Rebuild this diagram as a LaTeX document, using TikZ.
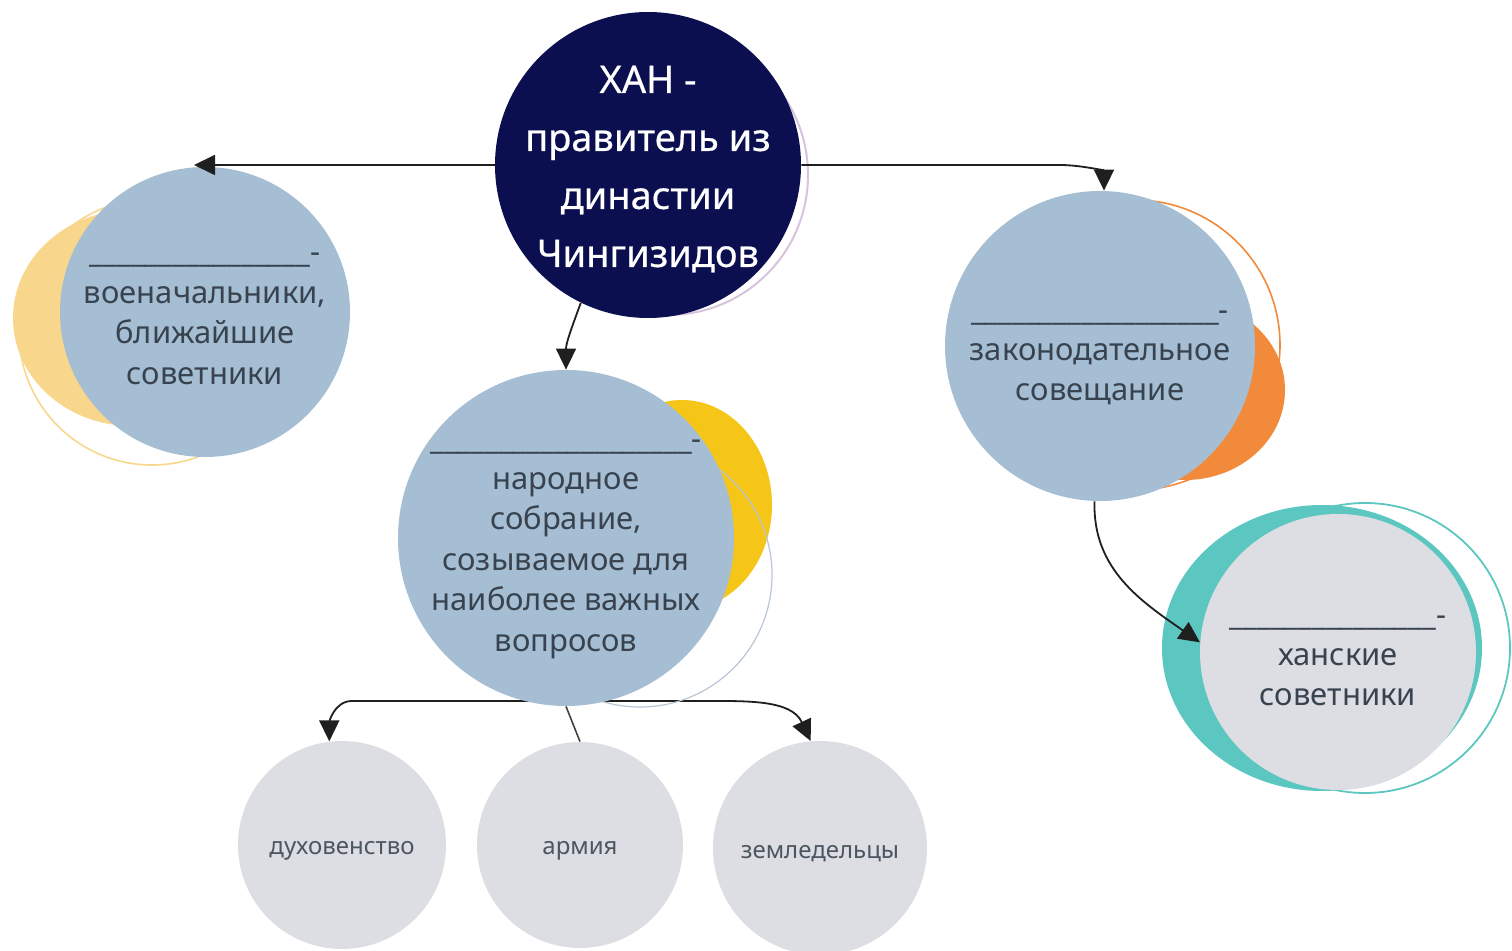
\documentclass[tikz,border=0pt]{standalone}
\usepackage{fontspec}
\setmainfont{Noto Sans}
\newfontfamily\medfont{Noto Sans}[FakeBold=0.5]
\usetikzlibrary{arrows.meta}
\definecolor{navy}{HTML}{0C0F4F}
\definecolor{bluegray}{HTML}{A5BED3}
\definecolor{lightgray}{HTML}{DDDEE3}
\definecolor{txt}{HTML}{38434F}
\definecolor{paleyellow}{HTML}{F8D68C}
\definecolor{goldyellow}{HTML}{F5C518}
\definecolor{orangec}{HTML}{F28A3B}
\definecolor{tealc}{HTML}{5CC7C0}
\definecolor{lavender}{HTML}{D6C3DC}
\definecolor{thinblue}{HTML}{B8C6D6}
\pgfdeclarelayer{back}
\pgfsetlayers{back,main}
\tikzset{
  disc/.style={circle, inner sep=0pt},
  bluedisc/.style={disc, fill=bluegray},
  graydisc/.style={disc, fill=lightgray},
  label text/.style={inner sep=0pt, align=center, text=txt, font=\fontsize{15.5}{20.2}\selectfont},
  small text/.style={inner sep=0pt, align=center, text=txt!90, font=\fontsize{12}{14}\selectfont},
  arr/.style={draw=black!88, line width=0.9pt, -{Triangle[length=10.5pt,width=10pt]}},
  plainline/.style={draw=black!75, line width=0.8pt},
}
\begin{document}
\begin{tikzpicture}[x=0.5pt,y=-0.5pt]
\useasboundingbox (0,0) rectangle (1512,951);
% decorative shapes
\draw[lavender, line width=1pt] (668,175) circle [radius=70pt];
\fill[paleyellow] (132,318) ellipse [x radius=59.5pt, y radius=54pt];
\draw[paleyellow, line width=0.8pt] (152,332) circle [radius=66.5pt];
\fill[orangec] (1185,390) ellipse [x radius=50pt, y radius=45pt];
\draw[orangec, line width=0.8pt] (1135,345) circle [radius=72.5pt];
\fill[goldyellow] (682,505) ellipse [x radius=45pt, y radius=52.5pt];
\draw[thinblue, line width=0.6pt] (640,575) circle [radius=66pt];
\fill[tealc] (1322,648) ellipse [x radius=80pt, y radius=71.5pt];
\draw[tealc, line width=0.9pt] (1365,648) circle [radius=72.5pt];
% main circles
\node[disc, fill=navy, minimum size=153pt] (khan) at (648,165) {};
\node[bluedisc, minimum size=145pt] (left) at (205,312) {};
\node[bluedisc, minimum size=155pt] (right) at (1100,346) {};
\node[bluedisc, minimum size=168pt] (mid) at (566,538) {};
\node[graydisc, minimum size=138pt] (kc) at (1338,652) {};
\node[graydisc, minimum size=104pt] (bl) at (342,845) {};
\node[graydisc, minimum size=103pt] (bm) at (580,845) {};
\node[graydisc, minimum size=107pt] (br) at (820,848) {};
% texts
\node[inner sep=0pt, align=center, text=white, font=\medfont\fontsize{19}{29}\selectfont] (khanT) at (648,169) {ХАН -\\правитель из\\династии\\Чингизидов};
\node[label text] (leftT) at (205,319) {\_\_\_\_\_\_\_\_\_\_\_\_\_\_\_\_-\\военачальники,\\ближайшие\\советники};
\node[label text] (rightT) at (1100,358) {\_\_\_\_\_\_\_\_\_\_\_\_\_\_\_\_\_\_-\\законодательное\\совещание};
\node[label text] (midT) at (566,549) {\_\_\_\_\_\_\_\_\_\_\_\_\_\_\_\_\_\_\_-\\народное\\собрание,\\созываемое для\\наиболее важных\\вопросов};
\node[label text] (kcT) at (1338,661) {\_\_\_\_\_\_\_\_\_\_\_\_\_\_\_-\\ханские\\советники};
\node[small text] (blT) at (342,851) {духовенство};
\node[small text] (bmT) at (580,851) {армия};
\node[small text] (brT) at (820,854) {земледельцы};
% connectors
\coordinate (lt) at (194,165);
\coordinate (rc) at (1060,165);
\coordinate (hl) at (352,701);
\coordinate (hr) at (700,701);
\draw[arr] (khan.west) -- (lt);
\draw[arr] (khan.east) -- (rc) to[out=0,in=90] ([xshift=2pt]right.north);
\draw[arr] (khan.244) to[out=250,in=90] (mid.north);
\begin{pgfonlayer}{back}
\draw[arr] (mid.south |- hl) -- (hl) to[out=180,in=90] (bl.97);
\draw[arr] (mid.south |- hr) -- (hr) to[out=0,in=115] (br.95);
\draw[plainline] (mid.south) -- (bm.north);
\end{pgfonlayer}
\draw[arr] (right.268) to[out=-92,in=145] (kc.176);
\end{tikzpicture}
\end{document}
